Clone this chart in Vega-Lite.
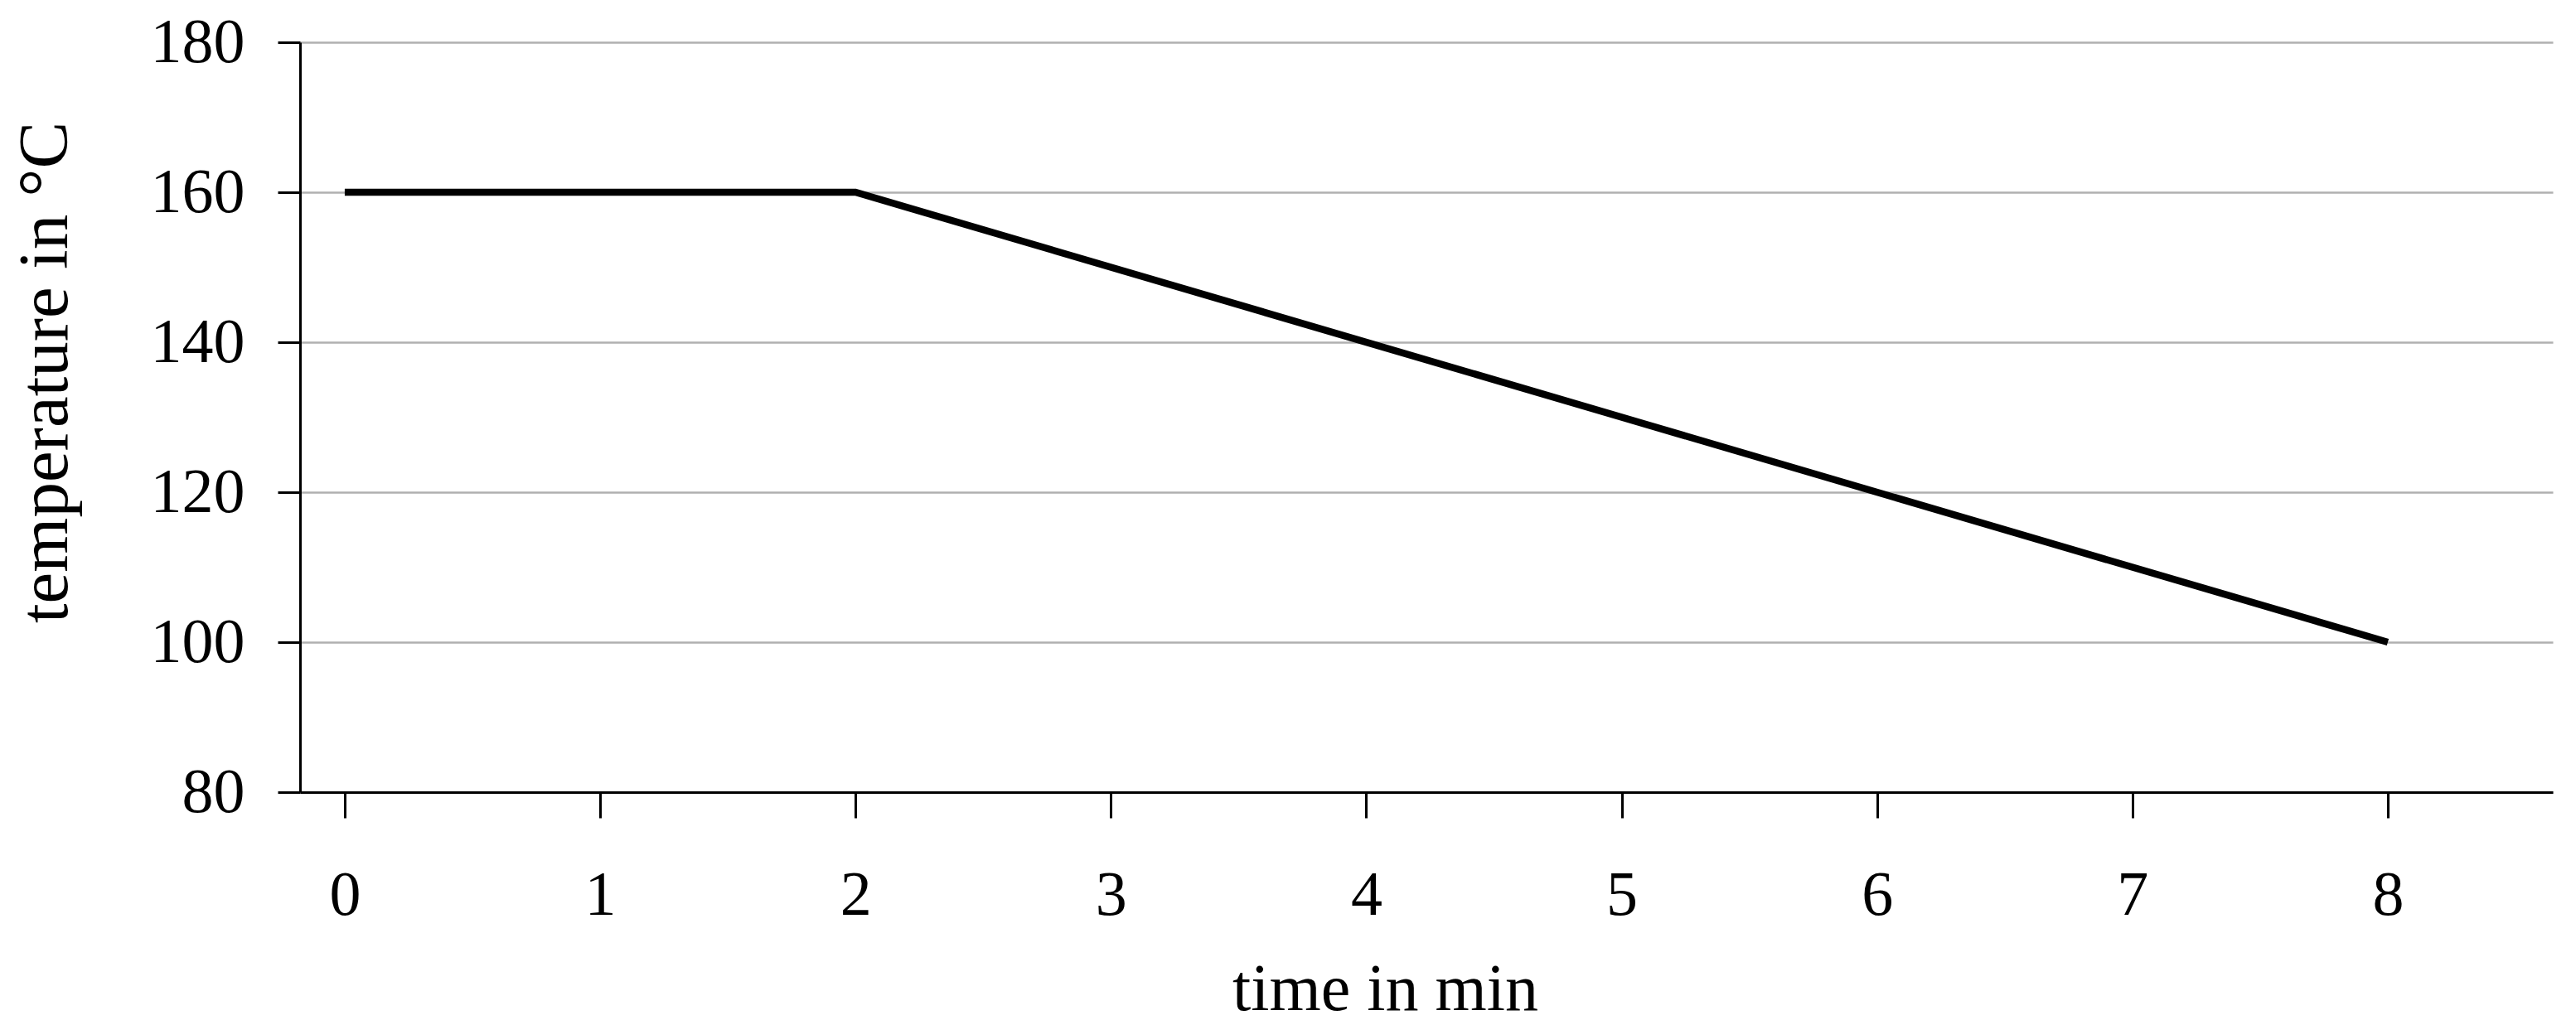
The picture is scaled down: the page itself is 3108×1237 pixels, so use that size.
{
  "$schema": "https://vega.github.io/schema/vega-lite/v6.json",
  "autosize": "none",
  "width": 2718,
  "height": 905,
  "padding": {"left": 362, "top": 51, "right": 28, "bottom": 281},
  "background": "white",
  "config": {
    "view": {"stroke": null},
    "font": "Liberation Serif",
    "axis": {
      "labelFont": "Liberation Serif",
      "titleFont": "Liberation Serif",
      "labelColor": "black",
      "titleColor": "black",
      "titleFontWeight": "normal",
      "domainColor": "black",
      "tickColor": "black"
    }
  },
  "data": {
    "values": [
      {"time": 0, "temperature": 160},
      {"time": 2, "temperature": 160},
      {"time": 8, "temperature": 100}
    ]
  },
  "mark": {"type": "line", "color": "black", "strokeWidth": 8.5, "strokeCap": "butt", "strokeJoin": "miter"},
  "encoding": {
    "x": {
      "field": "time",
      "type": "quantitative",
      "scale": {"domain": [-0.175, 8.646], "nice": false, "zero": false},
      "axis": {
        "title": "time in min",
        "values": [0, 1, 2, 3, 4, 5, 6, 7, 8],
        "grid": false,
        "domainWidth": 3,
        "tickWidth": 3,
        "tickSize": 31,
        "labelFontSize": 76,
        "labelPadding": 56,
        "labelFlush": false,
        "titleFontSize": 80,
        "titleX": 1309,
        "titleY": 262,
        "titleBaseline": "alphabetic",
        "titleAlign": "center",
        "titleAnchor": null
      }
    },
    "y": {
      "field": "temperature",
      "type": "quantitative",
      "scale": {"domain": [80, 180], "nice": false, "zero": false},
      "axis": {
        "title": "temperature in °C",
        "values": [80, 100, 120, 140, 160, 180],
        "grid": true,
        "gridColor": "#b0b0b0",
        "gridWidth": 2.5,
        "domainWidth": 3,
        "tickWidth": 3,
        "tickSize": 27,
        "labelFontSize": 76,
        "labelPadding": 40,
        "labelFlush": false,
        "titleFontSize": 85,
        "titleX": -282,
        "titleY": 398,
        "titleAngle": -90,
        "titleBaseline": "alphabetic",
        "titleAlign": "center",
        "titleAnchor": null
      }
    }
  }
}
